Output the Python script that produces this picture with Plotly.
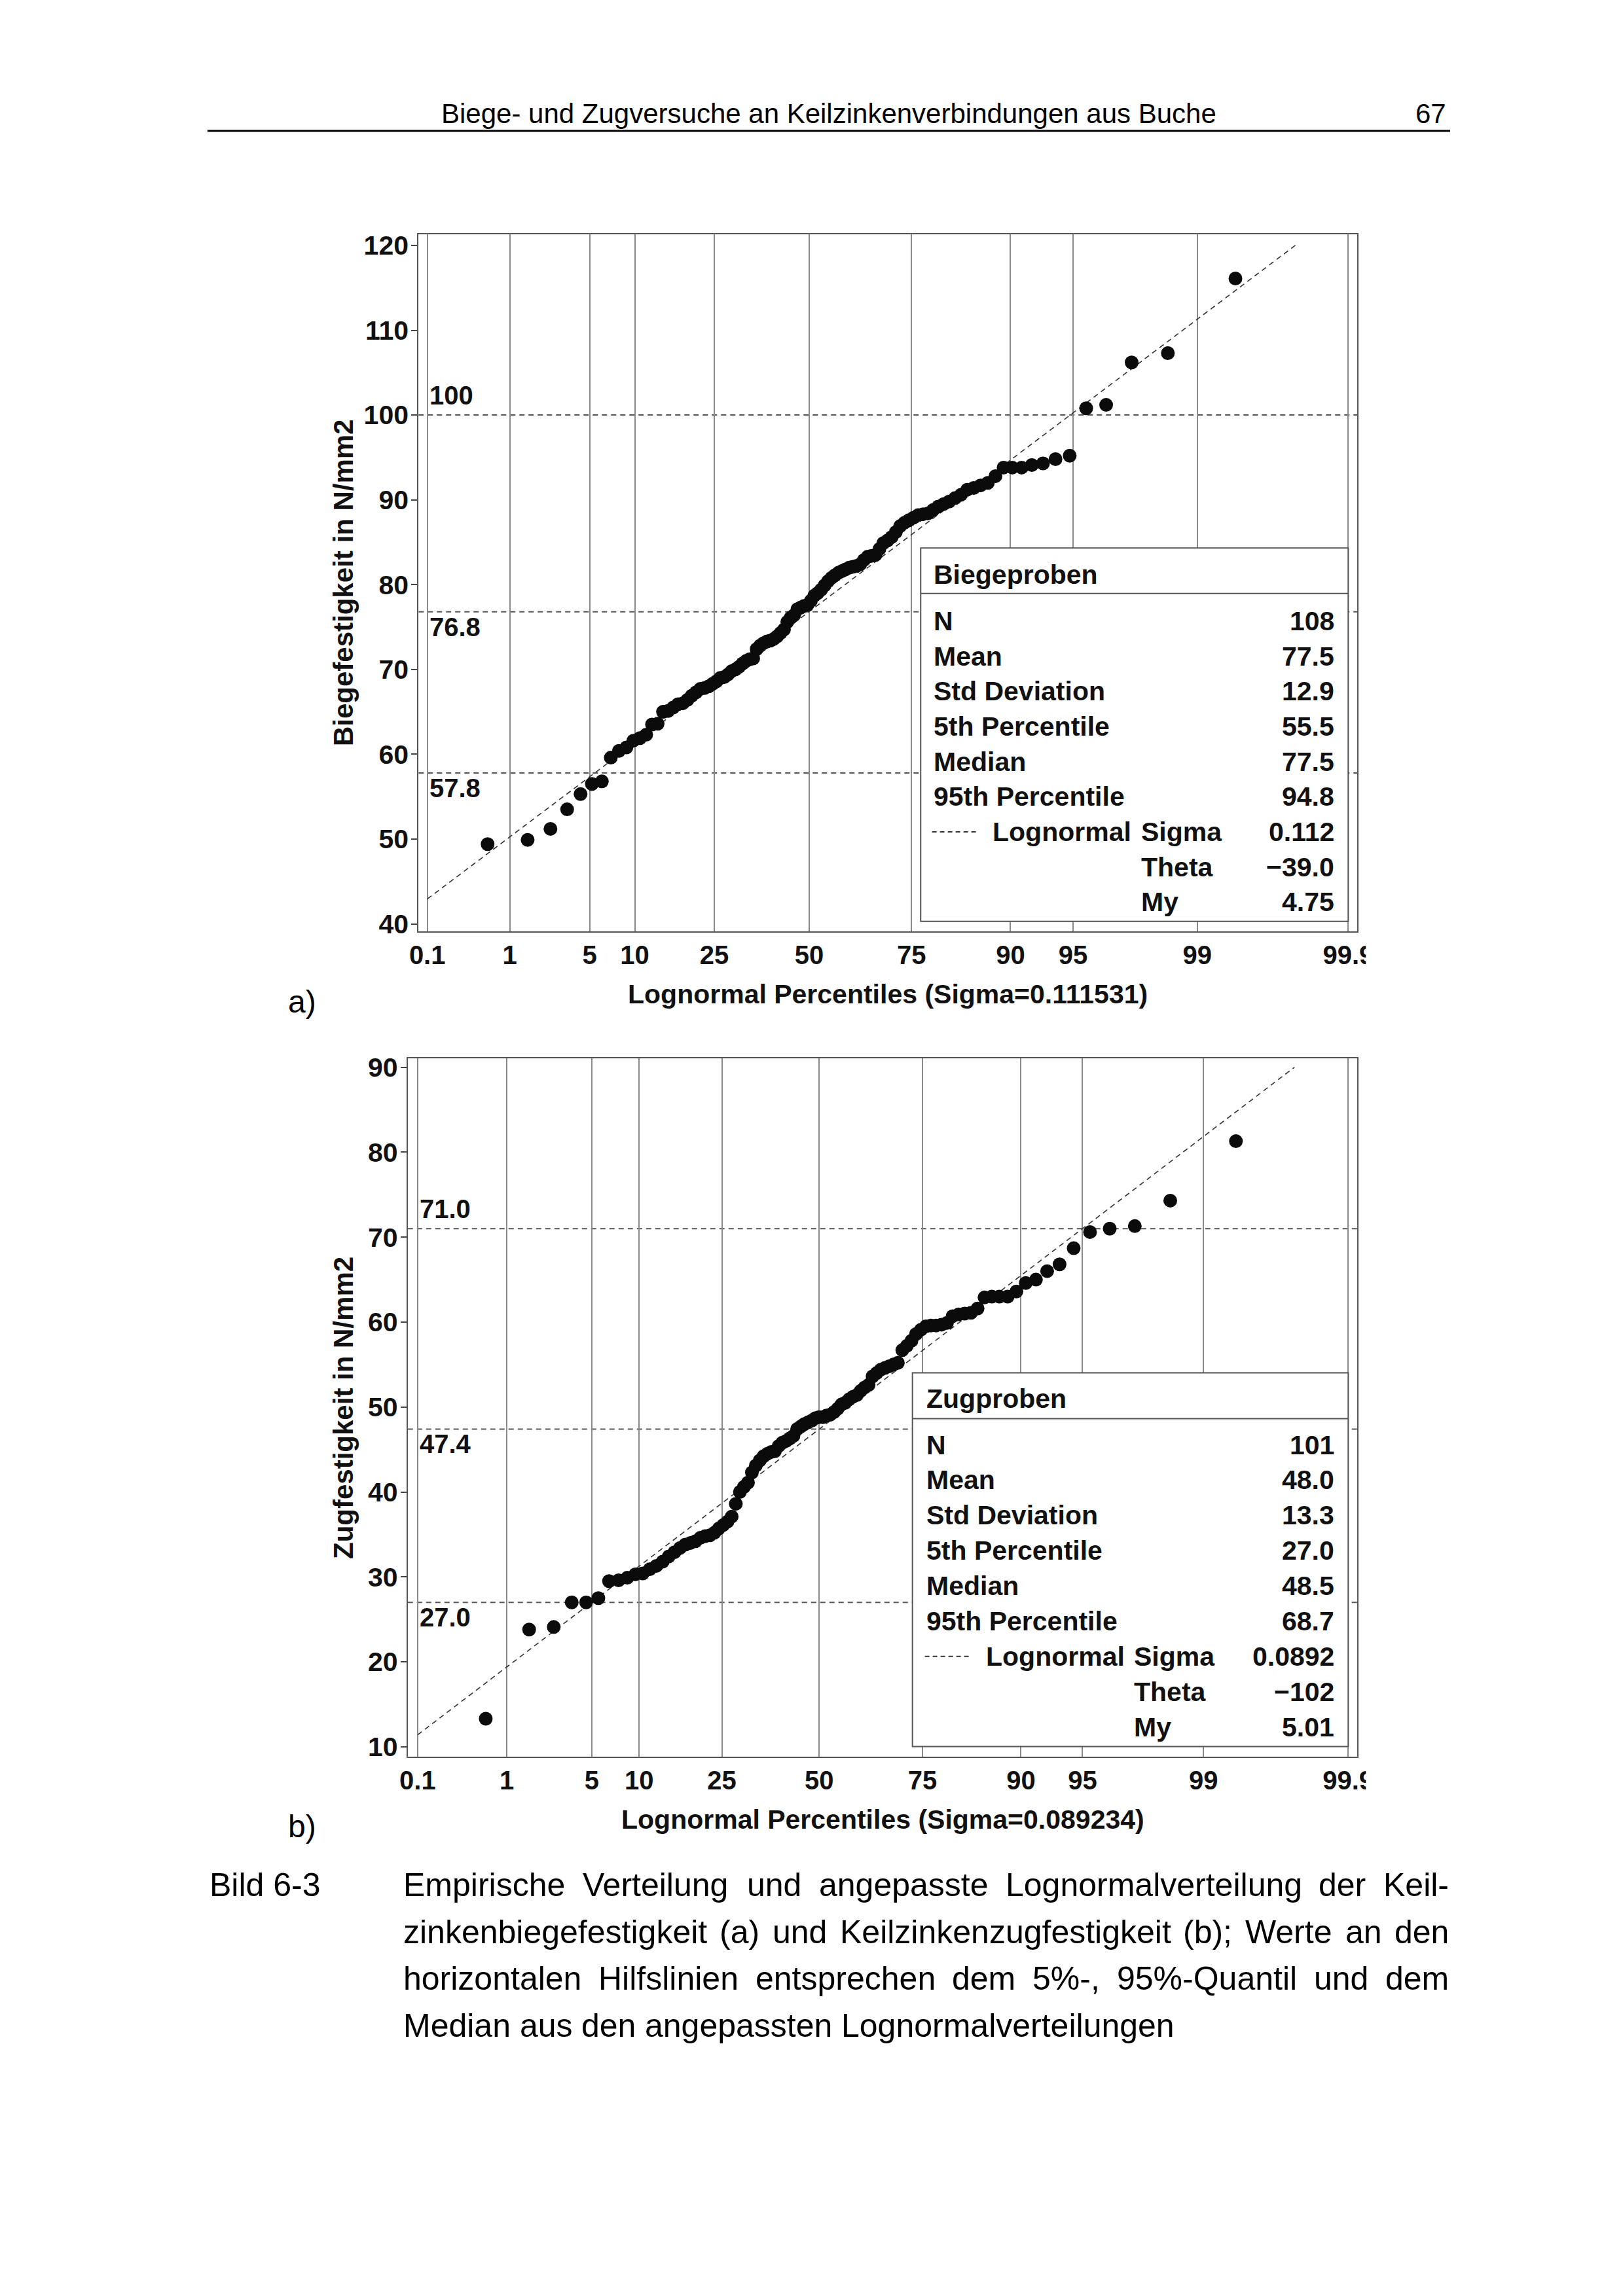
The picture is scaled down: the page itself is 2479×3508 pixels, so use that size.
import math
from statistics import NormalDist
import plotly.graph_objects as go

W, H = 2479, 3508
PAGE_MARGIN = 8            # default body margin of the html page
FW, FH = W - 2 * PAGE_MARGIN, H - 2 * PAGE_MARGIN
# observed linear placement of the rendered page in the photograph (page -> picture)
SX, CX = 0.9862, 9.6
SY, CY = 0.9945, 8.0
ND = NormalDist()

# ---------------- data ----------------
biege_values = [
    49.4, 49.9, 51.2, 53.5, 55.3, 56.5, 56.8, 59.6, 60.4, 60.8,
    61.6, 61.9, 62.3, 63.5, 63.6, 65.0, 65.1, 65.5, 65.9, 66.0,
    66.4, 66.9, 67.3, 67.7, 67.8, 68.0, 68.3, 68.6, 69.0, 69.1,
    69.4, 69.8, 70.0, 70.3, 70.7, 71.0, 71.2, 71.3, 72.4, 72.8,
    73.1, 73.3, 73.4, 73.6, 73.9, 74.3, 74.7, 75.6, 76.1, 76.4,
    77.1, 77.3, 77.5, 77.6, 78.1, 78.7, 79.0, 79.4, 79.9, 80.4,
    80.8, 81.1, 81.4, 81.6, 81.8, 82.0, 82.1, 82.2, 82.4, 82.9,
    83.3, 83.4, 83.5, 84.2, 84.9, 85.2, 85.6, 86.2, 86.9, 87.3,
    87.6, 87.9, 88.2, 88.3, 88.4, 88.8, 89.2, 89.5, 89.8, 90.2,
    90.6, 91.2, 91.4, 91.7, 92.0, 92.8, 93.8, 93.8, 93.8, 94.1,
    94.3, 94.8, 95.2, 100.8, 101.2, 106.2, 107.3, 116.1,
]
zug_values = [
    13.3, 23.8, 24.1, 27.0, 27.0, 27.5, 29.5, 29.6, 29.9, 30.3,
    30.4, 30.9, 31.3, 31.8, 32.4, 32.9, 33.4, 33.8, 34.0, 34.2,
    34.6, 34.9, 34.8, 35.2, 35.7, 36.1, 36.5, 37.1, 38.6, 40.0,
    40.6, 41.1, 42.3, 43.1, 43.7, 44.2, 44.5, 44.7, 44.8, 45.4,
    45.8, 46.0, 46.3, 46.6, 47.4, 47.7, 48.0, 48.2, 48.4, 48.7,
    48.8, 48.8, 49.0, 49.1, 49.4, 49.8, 50.3, 50.5, 50.9, 51.2,
    51.4, 51.9, 52.3, 52.6, 53.6, 54.0, 54.4, 54.6, 54.8, 55.0,
    55.2, 56.7, 57.2, 57.8, 58.6, 59.1, 59.5, 59.6, 59.7, 59.6,
    59.9, 60.7, 60.9, 61.0, 61.1, 61.6, 62.9, 63.0, 63.0, 63.0,
    63.6, 64.6, 65.0, 66.0, 66.8, 68.7, 70.6, 71.0, 71.3, 74.3,
    81.3,
]

pct_ticks = [0.1, 1, 5, 10, 25, 50, 75, 90, 95, 99, 99.9]
pct_text = ["0.1", "1", "5", "10", "25", "50", "75", "90", "95", "99", "99.9"]

biege_axis_sigma = 0.111531
zug_axis_sigma = 0.089234
# fitted lognormal: sigma, theta, zeta
biege_fit = (0.112, -39.0, 4.752)
zug_fit = (0.0892, -102.0, 5.0066)

biege_y_ticks = [40, 50, 60, 70, 80, 90, 100, 110, 120]
zug_y_ticks = [10, 20, 30, 40, 50, 60, 70, 80, 90]

biege_ref = [100.0, 76.8, 57.8]
biege_ref_text = ["100", "76.8", "57.8"]
zug_ref = [71.0, 47.4, 27.0]
zug_ref_text = ["71.0", "47.4", "27.0"]
ref_side = ["above", "below", "below"]

stat_labels = ["N", "Mean", "Std Deviation", "5th Percentile", "Median", "95th Percentile"]
param_labels = ["Sigma", "Theta", "My"]
biege_stat_values = ["108", "77.5", "12.9", "55.5", "77.5", "94.8"]
biege_param_values = ["0.112", "\u221239.0", "4.75"]
zug_stat_values = ["101", "48.0", "13.3", "27.0", "48.5", "68.7"]
zug_param_values = ["0.0892", "\u2212102", "5.01"]

header_text = "Biege- und Zugversuche an Keilzinkenverbindungen aus Buche"
page_no = "67"
caption_label = "Bild 6-3"
caption_lines = [
    "Empirische Verteilung und angepasste Lognormalverteilung der Keil-",
    "zinkenbiegefestigkeit (a) und Keilzinkenzugfestigkeit (b); Werte an den",
    "horizontalen Hilfslinien entsprechen dem 5%-, 95%-Quantil und dem",
    "Median aus den angepassten Lognormalverteilungen",
]

# ---------------- helpers ----------------
def px(x):
    page_x = (x - CX) / SX
    return (page_x - PAGE_MARGIN) / FW

def py(y):
    page_y = (y - CY) / SY
    return 1 - (page_y - PAGE_MARGIN) / FH

def blom(n):
    return [(i - 0.375) / (n + 0.25) for i in range(1, n + 1)]

def xq(p, s):
    return math.exp(s * ND.inv_cdf(p))

CHART_FONT = "Liberation Sans, Arial, sans-serif"
INK = "#111111"

fig = go.Figure()

panels = [
    dict(vals=biege_values, s=biege_axis_sigma, fit=biege_fit, yt=biege_y_ticks,
         ref=biege_ref, reft=biege_ref_text, xa="x", ya="y",
         left=636, right=2073, top=356.8, bottom=1422.6,
         y_at=(120, 374.0, 12.96), x_at=(1234.0, 2005.0),
         ytitle="Biegefestigkeit in N/mm2",
         xtitle="Lognormal Percentiles (Sigma=0.111531)",
         box=(1404.6, 2059, 836.5, 906, 1407), name="Biegeproben",
         stv=biege_stat_values, pav=biege_param_values,
         lab_x=1422, lbl_x=1513, par_x=1740, row0=948, title_y=877, dy=53.7,
         dash_x=(1422, 1491)),
    dict(vals=zug_values, s=zug_axis_sigma, fit=zug_fit, yt=zug_y_ticks,
         ref=zug_ref, reft=zug_ref_text, xa="x2", ya="y2",
         left=619.5, right=2073, top=1616.4, bottom=2683.5,
         y_at=(90, 1630.0, 12.98), x_at=(1249.2, 2550.0),
         ytitle="Zugfestigkeit in N/mm2",
         xtitle="Lognormal Percentiles (Sigma=0.089234)",
         box=(1392, 2059, 2097, 2167, 2668), name="Zugproben",
         stv=zug_stat_values, pav=zug_param_values,
         lab_x=1411, lbl_x=1503, par_x=1729, row0=2207, title_y=2136, dy=53.9,
         dash_x=(1411, 1480)),
]

shapes = []
annotations = []
layout_axes = {}

for k, P in enumerate(panels):
    s = P["s"]
    n = len(P["vals"])
    xs = [xq(p, s) for p in blom(n)]
    ys = sorted(P["vals"])
    # axis ranges from pixel geometry
    cx, kx = P["x_at"]
    x0 = 1 + (P["left"] - cx) / kx
    x1 = 1 + (P["right"] - cx) / kx
    v0, p0, ky = P["y_at"]
    ytop = v0 + (p0 - P["top"]) / ky
    ybot = v0 - (P["bottom"] - p0) / ky

    # fitted reference line
    sig, th, ze = P["fit"]
    z_a = ND.inv_cdf(0.001)
    z_b = (math.log(max(P["yt"]) - th) - ze) / sig
    zz = [z_a + (z_b - z_a) * j / 80 for j in range(81)]
    lx = [math.exp(s * z) for z in zz]
    ly = [th + math.exp(ze + sig * z) for z in zz]

    # horizontal reference lines
    for v, t, side in zip(P["ref"], P["reft"], ref_side):
        shapes.append(dict(type="line", xref=P["xa"], yref=P["ya"], x0=x0, x1=x1, y0=v, y1=v,
                           line=dict(color="#555555", width=2, dash="8px,6px"), layer="below"))
        annotations.append(dict(xref=P["xa"], yref=P["ya"], x=xq(0.001, s), y=v,
                                text=t, showarrow=False, xanchor="left", yanchor="middle",
                                xshift=1, yshift=(30 if side == "above" else -23),
                                font=dict(family=CHART_FONT, size=40, color=INK, weight="bold")))

    fig.add_trace(go.Scatter(x=lx, y=ly, mode="lines", xaxis=P["xa"], yaxis=P["ya"],
                             line=dict(color="#333333", width=1.6, dash="8px,6px"),
                             hoverinfo="skip", showlegend=False))
    fig.add_trace(go.Scatter(x=xs, y=ys, mode="markers", xaxis=P["xa"], yaxis=P["ya"],
                             marker=dict(size=21, color="#0b0b0b", line=dict(width=0)),
                             showlegend=False))

    xkey = "xaxis" if k == 0 else "xaxis2"
    ykey = "yaxis" if k == 0 else "yaxis2"
    layout_axes[xkey] = dict(
        domain=[px(P["left"]), px(P["right"])], range=[x0, x1], anchor=P["ya"],
        tickmode="array", tickvals=[xq(p / 100, s) for p in pct_ticks], ticktext=pct_text,
        showgrid=True, gridcolor="#8a8a8a", gridwidth=2, zeroline=False,
        showline=True, mirror=True, linecolor="#555555", linewidth=2,
        ticks="", ticklabelstandoff=0,
        tickfont=dict(family=CHART_FONT, size=40, color=INK, weight="bold"),
    )
    layout_axes[ykey] = dict(
        domain=[py(P["bottom"]), py(P["top"])], range=[ybot, ytop], anchor=P["xa"],
        tickmode="array", tickvals=P["yt"], showgrid=False, zeroline=False,
        showline=True, mirror=True, linecolor="#555555", linewidth=2,
        ticks="outside", ticklen=9, tickwidth=2, tickcolor="#444444", ticklabelstandoff=-4,
        tickfont=dict(family=CHART_FONT, size=41, color=INK, weight="bold"),
    )

    # axis titles
    annotations.append(dict(xref="paper", yref="paper", x=px(521), y=py((P["top"] + P["bottom"]) / 2),
                            text=P["ytitle"], textangle=-90, showarrow=False,
                            xanchor="center", yanchor="middle",
                            font=dict(family=CHART_FONT, size=42, color=INK, weight="bold")))
    annotations.append(dict(xref="paper", yref="paper", x=px((P["left"] + P["right"]) / 2),
                            y=py(P["bottom"] + 96), text=P["xtitle"], showarrow=False,
                            xanchor="center", yanchor="middle",
                            font=dict(family=CHART_FONT, size=41, color=INK, weight="bold")))

    # inset statistics box
    bl, br, bt, bsep, bb = P["box"]
    shapes.append(dict(type="rect", xref="paper", yref="paper", x0=px(bl), x1=px(br),
                       y0=py(bb), y1=py(bt), fillcolor="white",
                       line=dict(color="#555555", width=2), layer="above"))
    shapes.append(dict(type="line", xref="paper", yref="paper", x0=px(bl), x1=px(br),
                       y0=py(bsep), y1=py(bsep), line=dict(color="#555555", width=2), layer="above"))
    tf = dict(family=CHART_FONT, size=41, color=INK, weight="bold")
    annotations.append(dict(xref="paper", yref="paper", x=px(P["lab_x"]), y=py(P["title_y"]),
                            text=P["name"], showarrow=False, xanchor="left", yanchor="middle", font=tf))
    for r, (lab, val) in enumerate(zip(stat_labels, P["stv"])):
        yy = P["row0"] + r * P["dy"]
        annotations.append(dict(xref="paper", yref="paper", x=px(P["lab_x"]), y=py(yy), text=lab,
                                showarrow=False, xanchor="left", yanchor="middle", font=tf))
        annotations.append(dict(xref="paper", yref="paper", x=px(2040), y=py(yy), text=val,
                                showarrow=False, xanchor="right", yanchor="middle", font=tf))
    for r, (lab, val) in enumerate(zip(param_labels, P["pav"])):
        yy = P["row0"] + (6 + r) * P["dy"]
        annotations.append(dict(xref="paper", yref="paper", x=px(P["par_x"]), y=py(yy), text=lab,
                                showarrow=False, xanchor="left", yanchor="middle", font=tf))
        annotations.append(dict(xref="paper", yref="paper", x=px(2040), y=py(yy), text=val,
                                showarrow=False, xanchor="right", yanchor="middle", font=tf))
    yl = P["row0"] + 6 * P["dy"]
    annotations.append(dict(xref="paper", yref="paper", x=px(P["lbl_x"]), y=py(yl), text="Lognormal",
                            showarrow=False, xanchor="left", yanchor="middle", font=tf))
    shapes.append(dict(type="line", xref="paper", yref="paper", x0=px(P["dash_x"][0]), x1=px(P["dash_x"][1]),
                       y0=py(yl), y1=py(yl), line=dict(color="#333333", width=2, dash="7px,5px"),
                       layer="above"))
    # clip of the last tick label at the graphic edge
    shapes.append(dict(type="rect", xref="paper", yref="paper", x0=px(2086), x1=px(2200),
                       y0=py(P["bottom"] + 70), y1=py(P["bottom"] + 8), fillcolor="white",
                       line=dict(width=0), layer="above"))

# ---------------- page text ----------------
PAGE_FONT = "Liberation Sans, Arial, sans-serif"
annotations.append(dict(xref="paper", yref="paper", x=px(1264), y=py(172), text=header_text,
                        showarrow=False, xanchor="center", yanchor="middle",
                        font=dict(family=PAGE_FONT, size=42, color="#000000")))
annotations.append(dict(xref="paper", yref="paper", x=px(2211), y=py(172), text=page_no,
                        showarrow=False, xanchor="right", yanchor="middle",
                        font=dict(family=PAGE_FONT, size=42, color="#000000")))
shapes.append(dict(type="line", xref="paper", yref="paper", x0=px(313), x1=px(2215),
                   y0=py(199), y1=py(199), line=dict(color="#000000", width=3)))

for lab, yy in [("a)", 1530), ("b)", 2790)]:
    annotations.append(dict(xref="paper", yref="paper", x=px(434), y=py(yy), text=lab,
                            showarrow=False, xanchor="left", yanchor="middle",
                            font=dict(family=PAGE_FONT, size=48, color="#000000")))

annotations.append(dict(xref="paper", yref="paper", x=px(314), y=py(2880), text=caption_label,
                        showarrow=False, xanchor="left", yanchor="middle",
                        font=dict(family=PAGE_FONT, size=50, color="#000000")))

# Arial/Helvetica advance widths (per 1000 em) for justification
AW = {' ': 278, '(': 333, ')': 333, ',': 278, '-': 333, '.': 278, ';': 278, '%': 889}
for c in "0123456789":
    AW[c] = 556
AW.update(dict(A=667, B=667, C=722, D=722, E=667, F=611, G=778, H=722, I=278, J=500, K=667,
               L=556, M=833, N=722, O=778, P=667, Q=778, R=722, S=667, T=611, U=722, V=667,
               W=944, X=667, Y=667, Z=611))
AW.update(dict(a=556, b=556, c=500, d=556, e=556, f=278, g=556, h=556, i=222, j=222, k=500,
               l=222, m=833, n=556, o=556, p=556, q=556, r=333, s=500, t=278, u=556, v=500,
               w=722, x=500, y=500, z=500))

CAP_SIZE = 50
cap_left, cap_right = 611, 2211
cap_y = [2880, 2951.5, 3023, 3094.5]
for li, (line, yy) in enumerate(zip(caption_lines, cap_y)):
    words = line.split(" ")
    widths = [sum(AW.get(c, 556) for c in w) * CAP_SIZE / 1000 for w in words]
    if li < len(caption_lines) - 1:
        gap = (cap_right - cap_left - sum(widths)) / (len(words) - 1)
    else:
        gap = AW[' '] * CAP_SIZE / 1000
    xx = cap_left
    for w, wd in zip(words, widths):
        annotations.append(dict(xref="paper", yref="paper", x=px(xx), y=py(yy), text=w,
                                showarrow=False, xanchor="left", yanchor="middle",
                                font=dict(family=PAGE_FONT, size=CAP_SIZE, color="#000000")))
        xx += wd + gap

fig.update_layout(
    width=FW, height=FH, margin=dict(l=0, r=0, t=0, b=0),
    paper_bgcolor="white", plot_bgcolor="white", showlegend=False,
    shapes=shapes, annotations=annotations, **layout_axes,
)

fig.write_html("out.html")
